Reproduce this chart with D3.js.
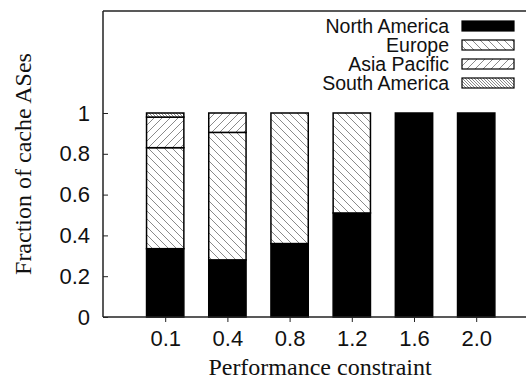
<!DOCTYPE html>
<html><head><meta charset="utf-8">
<script src="https://cdn.jsdelivr.net/npm/d3@7"></script>
<style>body{margin:0;background:#fff}svg{display:block}</style>
</head><body>
<svg id="chart" width="526" height="383"></svg>
<script>
const categories = ["0.1", "0.4", "0.8", "1.2", "1.6", "2.0"];
const northAmerica = [0.335, 0.28, 0.36, 0.51, 1, 1];
const europe = [0.495, 0.625, 0.64, 0.49, 0, 0];
const asiaPacific = [0.15, 0.095, 0, 0, 0, 0];
const southAmerica = [0.02, 0, 0, 0, 0, 0];
const seriesNames = ["North America", "Europe", "Asia Pacific", "South America"];
const yTicks = [0, 0.2, 0.4, 0.6, 0.8, 1];
const yTickLabels = ["0", "0.2", "0.4", "0.6", "0.8", "1"];
const xTitle = "Performance constraint";
const yTitle = "Fraction of cache ASes";

(function () {
const svg = d3.select("#chart");
const mLeft = 103, mTop = 11, mBottom = 317, mRight = 526;

const defs = svg.append("defs");
function hatch(id, spacing, dir, color, sw) {
  const p = defs.append("pattern").attr("id", id).attr("patternUnits", "userSpaceOnUse")
    .attr("width", spacing).attr("height", spacing);
  p.append("rect").attr("width", spacing).attr("height", spacing).attr("fill", "#fff");
  const s = spacing;
  const lines = dir === "back"
    ? [[-s, 0, s, 2 * s], [0, 0, s, s], [0, -s, 2 * s, s]]
    : [[0, s, s, 0], [-s, s, s, -s], [0, 2 * s, 2 * s, 0]];
  lines.forEach(l => p.append("line").attr("x1", l[0]).attr("y1", l[1]).attr("x2", l[2]).attr("y2", l[3])
    .attr("stroke", color).attr("stroke-width", sw));
}
hatch("pEU", 8, "back", "#8a8a8a", 1);
hatch("pAP", 8, "fwd", "#8a8a8a", 1);
hatch("pSA", 3, "back", "#7a7a7a", 0.9);
const fills = ["#000", "url(#pEU)", "url(#pAP)", "url(#pSA)"];

const data = categories.map((c, i) => ({
  cat: c, i: i,
  "North America": northAmerica[i], "Europe": europe[i],
  "Asia Pacific": asiaPacific[i], "South America": southAmerica[i]
}));

const x = d3.scaleLinear().domain([-1, 5]).range([mLeft, mLeft + 6 * 62.2]);
const y = d3.scaleLinear().domain([0, 1.5]).range([mBottom, mTop]);
const barW = x(0.6) - x(0);

const stacked = d3.stack().keys(seriesNames)(data);

const g = svg.append("g");
stacked.forEach((layer, k) => {
  g.selectAll(null).data(layer.filter(d => d[1] - d[0] > 1e-9)).enter().append("rect")
    .attr("x", d => x(d.data.i) - barW / 2)
    .attr("y", d => y(d[1]))
    .attr("width", barW)
    .attr("height", d => y(d[0]) - y(d[1]))
    .attr("fill", fills[k])
    .attr("stroke", "#000")
    .attr("stroke-width", 1.5);
});

svg.append("line").attr("x1", mLeft).attr("x2", mRight).attr("y1", mTop).attr("y2", mTop)
  .attr("stroke", "#222").attr("stroke-width", 1.5);
svg.append("line").attr("x1", mLeft).attr("x2", mRight).attr("y1", mBottom).attr("y2", mBottom)
  .attr("stroke", "#222").attr("stroke-width", 1.5);
svg.append("line").attr("x1", mLeft).attr("x2", mLeft).attr("y1", mTop).attr("y2", mBottom)
  .attr("stroke", "#222").attr("stroke-width", 1.5);

const yAxis = svg.append("g").attr("transform", `translate(${mLeft},0)`)
  .call(d3.axisLeft(y).tickValues(yTicks).tickFormat((d, i) => yTickLabels[i]).tickSizeInner(-5).tickSizeOuter(0).tickPadding(13));
yAxis.select(".domain").remove();
yAxis.selectAll("line").attr("stroke", "#222").attr("stroke-width", 1);
yAxis.selectAll("text").attr("font-family", "Liberation Sans, Arial, sans-serif").attr("font-size", 22).attr("fill", "#111");

const xAxis = svg.append("g").attr("transform", `translate(0,${mBottom})`)
  .call(d3.axisBottom(x).tickValues(d3.range(categories.length)).tickFormat(i => categories[i]).tickSizeInner(5).tickSizeOuter(0).tickPadding(8));
xAxis.select(".domain").remove();
xAxis.selectAll("line").attr("stroke", "#222").attr("stroke-width", 1);
xAxis.selectAll("text").attr("font-family", "Liberation Sans, Arial, sans-serif").attr("font-size", 22).attr("fill", "#111");

svg.append("text").attr("x", 320).attr("y", 375).attr("text-anchor", "middle")
  .attr("font-family", "Liberation Serif, Times New Roman, serif").attr("font-size", 24).attr("fill", "#111")
  .text(xTitle);
svg.append("text").attr("transform", `translate(31,${(mTop + mBottom) / 2}) rotate(-90)`).attr("text-anchor", "middle")
  .attr("font-family", "Liberation Serif, Times New Roman, serif").attr("font-size", 24).attr("fill", "#111")
  .text(yTitle);

const leg = svg.append("g");
seriesNames.forEach((name, k) => {
  const by = 33 + k * 19;
  leg.append("text").attr("x", 449).attr("y", by).attr("text-anchor", "end")
    .attr("font-family", "Liberation Sans, Arial, sans-serif").attr("font-size", 19.5).attr("fill", "#111").text(name);
  leg.append("rect").attr("x", 462).attr("y", by - 12).attr("width", 52).attr("height", 10)
    .attr("fill", fills[k]).attr("stroke", "#000").attr("stroke-width", 1.2);
});
})();
</script>
</body></html>
